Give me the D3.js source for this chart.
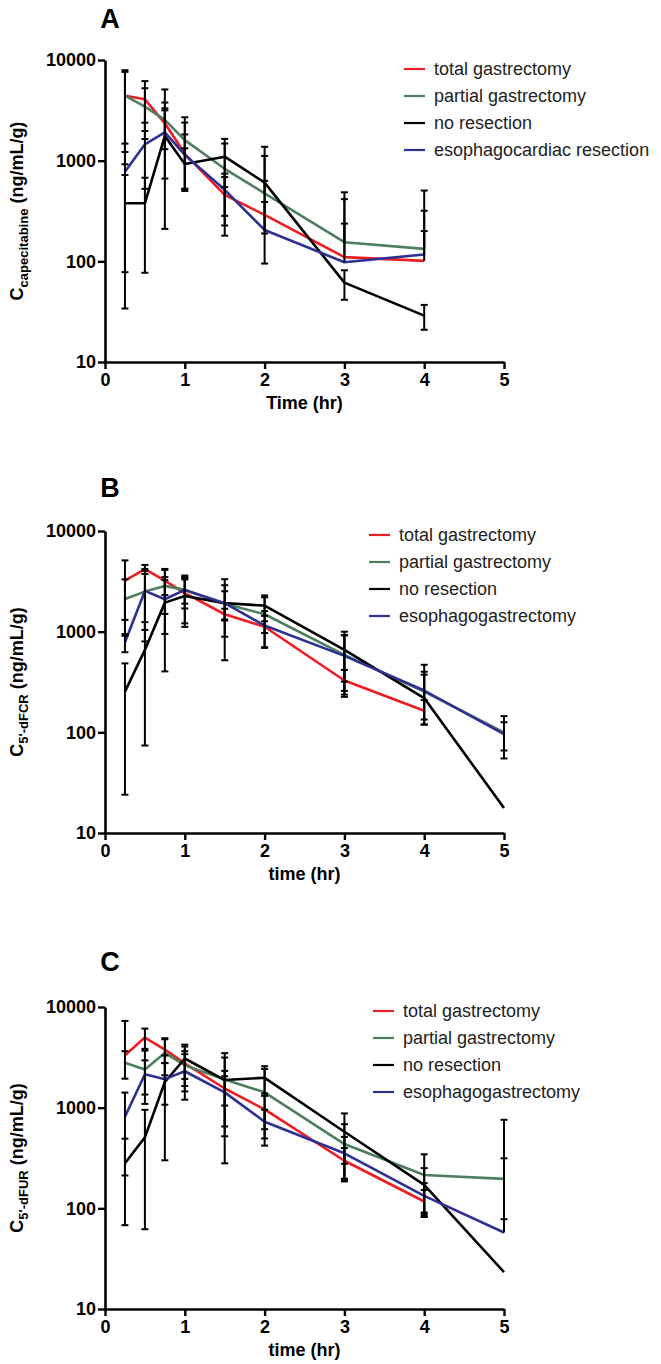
<!DOCTYPE html>
<html>
<head>
<meta charset="utf-8">
<script src="https://cdn.jsdelivr.net/npm/d3@7"></script>
<style>
  body { margin: 0; background: #fff; }
  svg { display: block; font-family: "Liberation Sans", Arial, sans-serif; }
</style>
</head>
<body>
<svg id="chart" width="661" height="1364"></svg>
<script>
// sampling times (hr)
const times = [0.25, 0.5, 0.75, 1, 1.5, 2, 3, 4, 5];
const yTicks = [10, 100, 1000, 10000];
const xTicks = [0, 1, 2, 3, 4, 5];
const groupsA = ["total gastrectomy", "partial gastrectomy", "no resection", "esophagocardiac resection"];
const groupsBC = ["total gastrectomy", "partial gastrectomy", "no resection", "esophagogastrectomy"];
const colors = ["#ee1d23", "#4d7f5f", "#000000", "#2e3192"];

// A: capecitabine, mean and SD
const capeTotal = [4420, 4070, 2350, 1170, 457, 289, 110, 101, null];
const capePartial = [4420, 3440, 2540, 1600, 830, 474, 155, 133, null];
const capeNone = [377, 377, 1760, 927, 1096, 605, 61.5, 28.9, null];
const capeEso = [778, 1455, 1914, 1140, 513, 205, 98, 117, null];
const capeTotalSd = [3500, 2100, 2750, 650, 230, 100, 305, 99, null];
const capePartialSd = [3200, 1800, 1240, 1100, 650, 900, 330, 372, null];
const capeNoneSd = [343, 300, 1550, 400, 550, 510, 20, 8, null];
const capeEsoSd = [700, 930, 1250, 1250, 230, 425, 139, 201, null];

// B: 5'-dFCR
const dfcrTotal = [3210, 4170, 3210, 2410, 1490, 1120, 327, 164, null];
const dfcrPartial = [2110, 2500, 2850, 2600, 1890, 1490, 588, 254, 100];
const dfcrNone = [254, 659, 1943, 2265, 1920, 1815, 659, 219, 17.7];
const dfcrEso = [785, 2540, 2100, 2600, 1920, 1150, 575, 260, 96];
const dfcrTotalSd = [1900, 430, 900, 1200, 200, 150, 90, 45, null];
const dfcrPartialSd = [1200, 1700, 1350, 900, 1000, 800, 330, 120, 45];
const dfcrNoneSd = [230, 585, 1540, 1150, 1400, 380, 340, 250, 0];
const dfcrEsoSd = [160, 1500, 1150, 700, 600, 450, 350, 140, 30];

// C: 5'-dFUR
const dfurTotal = [3320, 4970, 3780, 2750, 1550, 961, 297, 117, null];
const dfurPartial = [2790, 2390, 3500, 2640, 1900, 1420, 435, 214, 196];
const dfurNone = [280, 507, 1800, 3080, 1880, 1980, 577, 171, 23.3];
const dfurEso = [812, 2150, 1920, 2300, 1420, 724, 352, 133, 57.5];
const dfurTotalSd = [3950, 1130, 1000, 1300, 500, 350, 100, 35, null];
const dfurPartialSd = [850, 1300, 1400, 1000, 1250, 1000, 250, 130, 118];
const dfurNoneSd = [212, 445, 1500, 1150, 1600, 600, 300, 80, 0];
const dfurEsoSd = [600, 800, 850, 1100, 900, 230, 160, 45, 700];

const panels = [
  { letter: "A", sub: "capecitabine", xTitle: "Time (hr)", groups: groupsA,
    means: [capeTotal, capePartial, capeNone, capeEso],
    sds: [capeTotalSd, capePartialSd, capeNoneSd, capeEsoSd],
    top: 60, letterY: 28, legX: 404, legY: 69 },
  { letter: "B", sub: "5'-dFCR", xTitle: "time (hr)", groups: groupsBC,
    means: [dfcrTotal, dfcrPartial, dfcrNone, dfcrEso],
    sds: [dfcrTotalSd, dfcrPartialSd, dfcrNoneSd, dfcrEsoSd],
    top: 531, letterY: 497, legX: 369, legY: 535 },
  { letter: "C", sub: "5'-dFUR", xTitle: "time (hr)", groups: groupsBC,
    means: [dfurTotal, dfurPartial, dfurNone, dfurEso],
    sds: [dfurTotalSd, dfurPartialSd, dfurNoneSd, dfurEsoSd],
    top: 1007, letterY: 971, legX: 373, legY: 1011 }
];

const svg = d3.select("#chart");
const left = 105, right = 504, plotH = 302;

panels.forEach((p) => {
  const bottom = p.top + plotH;
  const x = d3.scaleLinear().domain([0, 5]).range([left, right]);
  const y = d3.scaleLog().domain([10, 10000]).range([bottom, p.top]);
  const g = svg.append("g");

  // panel letter
  g.append("text")
    .attr("x", 110).attr("y", p.letterY)
    .attr("text-anchor", "middle")
    .attr("font-size", 27).attr("font-weight", "bold")
    .text(p.letter);

  // axes
  const yAxis = g.append("g")
    .attr("transform", `translate(${left},0)`)
    .call(d3.axisLeft(y).tickValues(yTicks).tickFormat(d3.format("d"))
      .tickSize(7).tickSizeOuter(0).tickPadding(2));
  const xAxis = g.append("g")
    .attr("transform", `translate(0,${bottom})`)
    .call(d3.axisBottom(x).tickValues(xTicks).tickFormat(d3.format("d"))
      .tickSize(7).tickSizeOuter(0).tickPadding(4));
  [yAxis, xAxis].forEach((a) => {
    a.select(".domain").attr("stroke-width", 2.6);
    a.selectAll(".tick line").attr("stroke-width", 2.4);
    a.selectAll(".tick text")
      .attr("font-size", 18).attr("font-weight", "bold")
      .attr("font-family", "Liberation Sans, Arial, sans-serif");
  });

  // axis titles
  g.append("text")
    .attr("x", (left + right) / 2).attr("y", bottom + 47)
    .attr("text-anchor", "middle")
    .attr("font-size", 18).attr("font-weight", "bold")
    .text(p.xTitle);

  const yt = g.append("text")
    .attr("transform", `translate(23,${(p.top + bottom) / 2}) rotate(-90)`)
    .attr("text-anchor", "middle")
    .attr("font-size", 18).attr("font-weight", "bold");
  yt.append("tspan").text("C");
  yt.append("tspan").attr("font-size", 13).attr("dy", 5).text(p.sub);
  yt.append("tspan").attr("dy", -5).text(" (ng/mL/g)");

  // series lines
  const line = d3.line()
    .defined((d) => d[1] != null)
    .x((d) => x(d[0]))
    .y((d) => y(d[1]));

  p.means.forEach((m, i) => {
    g.append("path")
      .datum(times.map((t, j) => [t, m[j]]))
      .attr("fill", "none")
      .attr("stroke", colors[i])
      .attr("stroke-width", 2.6)
      .attr("stroke-linejoin", "round")
      .attr("d", line);
  });

  // error bars (mean ± SD), lower arm omitted when below axis
  const capW = 3.5;
  p.means.forEach((m, i) => {
    const sd = p.sds[i];
    times.forEach((t, j) => {
      if (m[j] == null || !sd[j]) return;
      const hi = m[j] + sd[j];
      const lo = m[j] - sd[j];
      const cx = x(t);
      const yLo = lo > 10 ? y(lo) : y(m[j]);
      g.append("line")
        .attr("x1", cx).attr("x2", cx)
        .attr("y1", y(hi)).attr("y2", yLo)
        .attr("stroke", "#000").attr("stroke-width", 2);
      g.append("line")
        .attr("x1", cx - capW).attr("x2", cx + capW)
        .attr("y1", y(hi)).attr("y2", y(hi))
        .attr("stroke", "#000").attr("stroke-width", 2);
      if (lo > 10) {
        g.append("line")
          .attr("x1", cx - capW).attr("x2", cx + capW)
          .attr("y1", y(lo)).attr("y2", y(lo))
          .attr("stroke", "#000").attr("stroke-width", 2);
      }
    });
  });

  // legend
  p.groups.forEach((name, i) => {
    const ly = p.legY + i * 27;
    g.append("line")
      .attr("x1", p.legX).attr("x2", p.legX + 21)
      .attr("y1", ly).attr("y2", ly)
      .attr("stroke", colors[i]).attr("stroke-width", 2.2);
    g.append("text")
      .attr("x", p.legX + 30).attr("y", ly)
      .attr("dy", "0.35em")
      .attr("font-size", 18)
      .attr("fill", "#222")
      .text(name);
  });
});
</script>
</body>
</html>
